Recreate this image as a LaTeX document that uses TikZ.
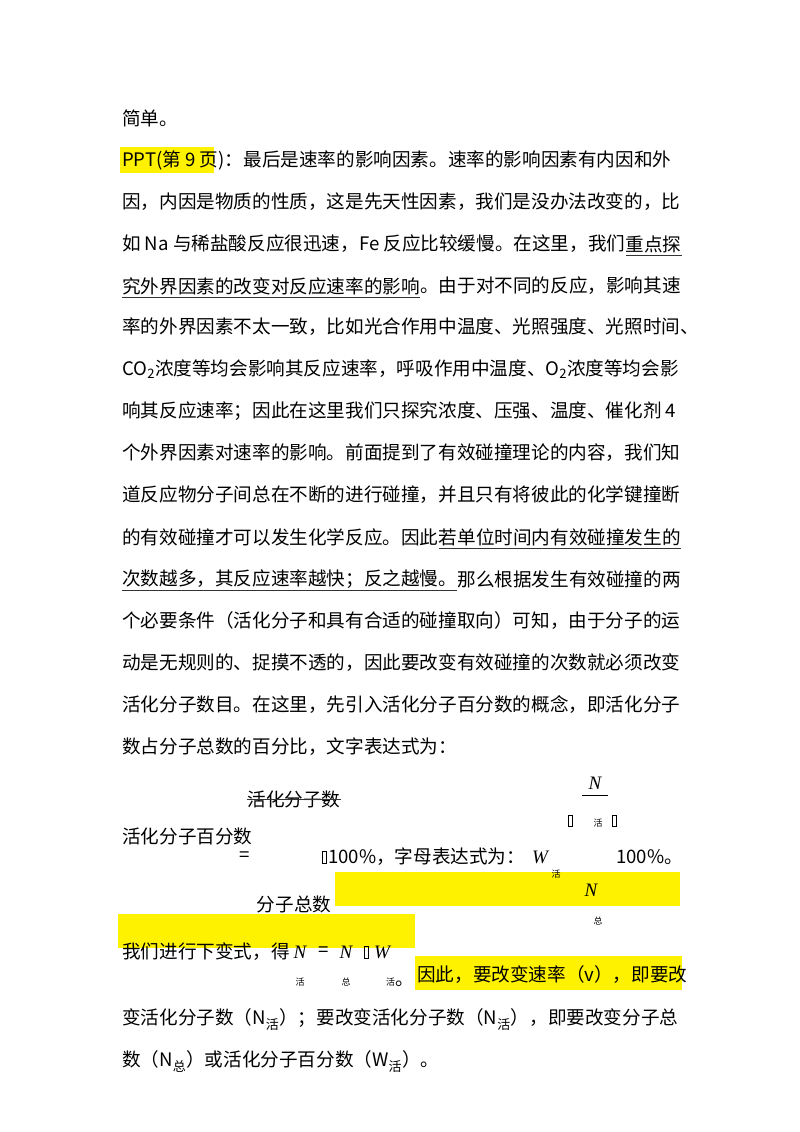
\documentclass[tikz,border=0pt]{standalone}
\usepackage{fontspec}
\setmainfont{Noto Sans CJK SC}
\newfontfamily\serifit{Liberation Serif}
\begin{document}
\begin{tikzpicture}[x=1pt,y=-1pt,
  ln/.style={anchor=west,inner sep=0pt,font=\fontsize{18.6}{20}\selectfont},
  sm/.style={inner sep=0pt,font=\fontsize{9}{10}\selectfont},
  it/.style={inner sep=0pt,font=\fontsize{19}{20}\serifit\itshape},
  hl/.style={fill=yellow,draw=none},
  ul/.style={line width=0.8pt,black!80}]
\useasboundingbox (0,0) rectangle (800,1132);
\fill[white] (0,0) rectangle (800,1132);
% highlights
\fill[hl] (120,147) rectangle (214,173);
\fill[hl] (335,872) rectangle (680,906);
\fill[hl] (118,914) rectangle (415,948);
\fill[hl] (415,956) rectangle (682,990);
% body lines
\node[ln] (l1) at (122,118) {简单。};
\node[ln] (l2) at (122,160) {PPT(第 9 页)：最后是速率的影响因素。速率的影响因素有内因和外};
\node[ln] (l3) at (122,202) {因，内因是物质的性质，这是先天性因素，我们是没办法改变的，比};
\node[ln] (l4) at (122,244) {如 Na 与稀盐酸反应很迅速，Fe 反应比较缓慢。在这里，我们};
\node[ln] (u4) at (l4.east) {重点探};
\node[ln] (l5) at (122,286) {究外界因素的改变对反应速率的影响};
\node[ln] (l5b) at (l5.east) {。由于对不同的反应，影响其速};
\node[ln] (l6) at (122,327) {率的外界因素不太一致，比如光合作用中温度、光照强度、光照时间、};
\node[ln] (l7) at (122,369) {CO\textsubscript{2}浓度等均会影响其反应速率，呼吸作用中温度、O\textsubscript{2}浓度等均会影};
\node[ln] (l8) at (122,411) {响其反应速率；因此在这里我们只探究浓度、压强、温度、催化剂 4};
\node[ln] (l9) at (122,453) {个外界因素对速率的影响。前面提到了有效碰撞理论的内容，我们知};
\node[ln] (l10) at (122,495) {道反应物分子间总在不断的进行碰撞，并且只有将彼此的化学键撞断};
\node[ln] (l11) at (122,537) {的有效碰撞才可以发生化学反应。因此};
\node[ln] (u11) at (l11.east) {若单位时间内有效碰撞发生的};
\node[ln] (l12) at (122,579) {次数越多，其反应速率越快；反之越慢。};
\node[ln] (l12b) at (l12.east) {那么根据发生有效碰撞的两};
\node[ln] (l13) at (122,621) {个必要条件（活化分子和具有合适的碰撞取向）可知，由于分子的运};
\node[ln] (l14) at (122,663) {动是无规则的、捉摸不透的，因此要改变有效碰撞的次数就必须改变};
\node[ln] (l15) at (122,705) {活化分子数目。在这里，先引入活化分子百分数的概念，即活化分子};
\node[ln] (l16) at (122,747) {数占分子总数的百分比，文字表达式为：};
% underlines
\draw[ul] ([yshift=-11pt]u4.west) -- ([yshift=-11pt]u4.east);
\draw[ul] ([yshift=-11pt]l5.west) -- ([yshift=-11pt]l5.east);
\draw[ul] ([yshift=-11pt]u11.west) -- ([yshift=-11pt]u11.east);
\draw[ul] ([yshift=-11pt]l12.west) -- ([yshift=-11pt]l12.east);
% formula
\node[ln,anchor=center] (f1) at (294,799) {活化分子数};
\draw[ul] (f1.west) -- (f1.east);
\node[it] (n1) at (595,783) {N};
\draw[line width=0.7pt] (582,795) -- (608,795);
\draw[line width=0.5pt] (568,815) rectangle (572,826);
\node[sm] (h1) at (598,823) {活};
\draw[line width=0.5pt] (612,815) rectangle (616,826);
\node[ln] (f2) at (122,836) {活化分子百分数};
\node[ln,anchor=center] (eq) at (245,857) {=};
\draw[line width=0.5pt] (322,851) rectangle (326,863);
\node[ln] (f3) at (328,857) {100\%，字母表达式为：};
\node[it] (w1) at (540,857) {W};
\node[ln] (f4) at (616,857) {100\%。};
\node[sm] (h2) at (556,874) {活};
\node[it] (n2) at (591,890) {N};
\node[ln,anchor=center] (f5) at (294,904) {分子总数};
\node[sm] (z1) at (598,921) {总};
\node[ln] (f6) at (122,952) {我们进行下变式，得};
\node[it] (n3) at (300,952) {N};
\node[ln] (eq2) at (318,952) {=};
\node[it] (n4) at (346,952) {N};
\draw[line width=0.5pt] (364,946) rectangle (368,958);
\node[it] (w2) at (382,952) {W};
\node[sm] (h3) at (300,982) {活};
\node[sm] (z2) at (346,982) {总};
\node[sm,anchor=west] (h4) at (386,982) {活\fontsize{18.6}{20}\selectfont 。};
\node[ln] (l17) at (417,975) {因此，要改变速率（v），即要改};
\node[ln] (l18) at (122,1020) {变活化分子数（N\textsubscript{活}）；要改变活化分子数（N\textsubscript{活}），即要改变分子总};
\node[ln] (l19) at (122,1062) {数（N\textsubscript{总}）或活化分子百分数（W\textsubscript{活}）。};
\end{tikzpicture}
\end{document}
